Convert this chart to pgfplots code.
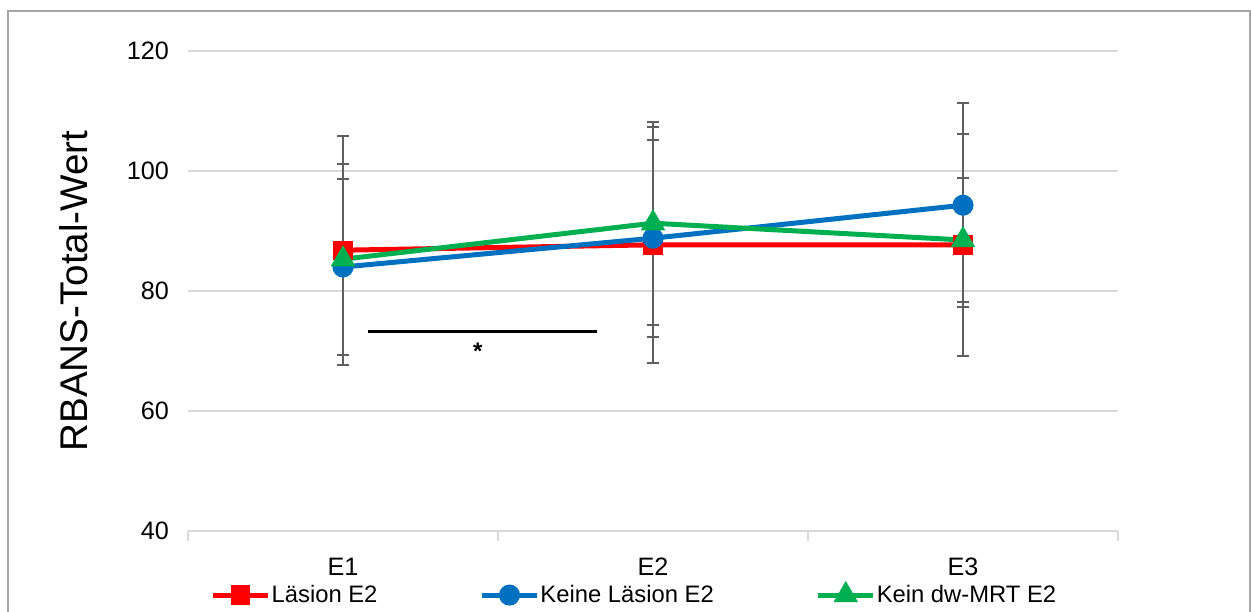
\documentclass[border=0pt]{standalone}
\usepackage{pgfplots}
\pgfplotsset{compat=1.18}
\usepackage{fontspec}
\setmainfont{Liberation Sans}
\definecolor{cRed}{HTML}{FF0000}
\definecolor{cBlue}{HTML}{0070C0}
\definecolor{cGreen}{HTML}{00B050}
\definecolor{cGrid}{HTML}{D9D9D9}
\definecolor{cErr}{HTML}{5F5F5F}
\definecolor{cFrame}{HTML}{A6A6A6}
\begin{document}
\begin{tikzpicture}
\useasboundingbox (-94bp,-40.5bp) rectangle (531.5bp,265.5bp);
\draw[cFrame, line width=0.9bp] (-90bp,-60bp) rectangle (531bp,260bp);
\begin{axis}[
  at={(0,0)}, anchor=south west,
  scale only axis, width=465bp, height=240bp,
  xmin=-0.5, xmax=2.5, ymin=40, ymax=120,
  ytick={40,60,80,100,120},
  xtick={0,1,2}, xticklabels={E1,E2,E3},
  minor xtick={-0.5,0.5,1.5,2.5},
  major tick length=0pt, minor tick length=5bp,
  tick align=outside,
  minor tick style={cGrid, line width=0.9bp},
  separate axis lines,
  axis x line*=bottom, axis y line*=left,
  x axis line style={cGrid, line width=0.9bp, -},
  y axis line style={draw=none},
  ytick style={draw=none},
  ymajorgrids, grid style={cGrid, line width=0.9bp},
  /pgf/number format/assume math mode=true,
  tick label style={font=\fontsize{12.6bp}{14bp}\selectfont},
  xticklabel style={yshift=-10bp},
  yticklabel style={xshift=-6bp},
  ylabel={RBANS-Total-Wert},
  ylabel style={font=\fontsize{19.3bp}{22bp}\selectfont, yshift=12.5bp},
  legend columns=3,
  legend style={draw=none, fill=none, at={(rel axis cs:0.0175,-0.095)}, anchor=north west,
    font=\fontsize{11.9bp}{14bp}\selectfont,
    /tikz/every odd column/.append style={column sep=-1.5bp},
    /tikz/every even column/.append style={column sep=49bp}},
  legend cell align=left,
  legend image code/.code={
    \draw[#1, mark repeat=2, mark phase=2] plot coordinates {(0bp,0bp) (13.75bp,0bp) (27.5bp,0bp)};},
  every axis plot/.append style={line width=2.5bp},
  error bars/y dir=both, error bars/y explicit,
  error bars/error bar style={cErr, line width=1.1bp},
  error bars/error mark options={cErr, rotate=90, mark size=3bp, line width=1.1bp},
  clip=false,
]
\addplot[cRed, mark=square*, mark size=3.6bp, mark options={solid}]
  coordinates {(0,86.8) +- (0,19.1) (1,87.7) +- (0,19.7) (2,87.7) +- (0,18.5)};
\addlegendentry{Läsion E2}
\addplot[cBlue, mark=*, mark size=4bp, mark options={solid}]
  coordinates {(0,84.0) +- (0,14.7) (1,88.8) +- (0,16.4) (2,94.3) +- (0,17.0)};
\addlegendentry{Keine Läsion E2}
\addplot[cGreen, mark=triangle*, mark size=4.6bp, mark options={solid}]
  coordinates {(0,85.3) +- (0,15.9) (1,91.3) +- (0,16.9) (2,88.5) +- (0,10.3)};
\addlegendentry{Kein dw-MRT E2}
% significance bar between E1 and E2
\draw[black, line width=1.5bp] (axis cs:0.08,73.3) -- (axis cs:0.82,73.3);
\node[font=\fontsize{12bp}{14bp}\selectfont\bfseries] at (axis cs:0.435,69.9) {*};
\end{axis}
\end{tikzpicture}
\end{document}
